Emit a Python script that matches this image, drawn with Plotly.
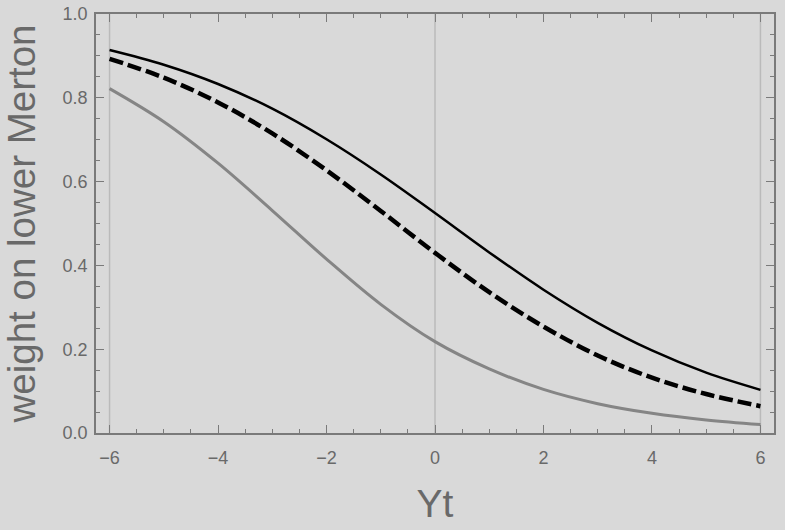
import plotly.graph_objects as go

# Yt values and curve readings (weight on lower Merton)
yt = [-6, -5, -4, -3, -2, -1, 0, 1, 2, 3, 4, 5, 6]
w_solid = [0.914, 0.879, 0.833, 0.774, 0.701, 0.617, 0.525, 0.431, 0.342, 0.263, 0.197, 0.144, 0.103]
w_dashed = [0.893, 0.848, 0.789, 0.715, 0.627, 0.530, 0.430, 0.336, 0.254, 0.185, 0.132, 0.093, 0.064]
w_gray = [0.822, 0.743, 0.644, 0.531, 0.415, 0.307, 0.218, 0.153, 0.104, 0.070, 0.047, 0.031, 0.020]

x_ticks = [-6, -4, -2, 0, 2, 4, 6]
y_ticks = [0.0, 0.2, 0.4, 0.6, 0.8, 1.0]

BG = "#d9d9d9"
FRAME = "#7a7a7a"
TXT = "#696969"
FONT = "Liberation Sans, Arial, sans-serif"

fig = go.Figure()
fig.add_trace(go.Scatter(x=yt, y=w_gray, mode="lines",
                         line=dict(color="#858585", width=3, shape="spline")))
fig.add_trace(go.Scatter(x=yt, y=w_dashed, mode="lines",
                         line=dict(color="black", width=4.5, dash="14px,5px", shape="spline")))
fig.add_trace(go.Scatter(x=yt, y=w_solid, mode="lines",
                         line=dict(color="black", width=2.5, shape="spline")))

# light grid lines at the ends and at zero
for gx in [-6, 0, 6]:
    fig.add_vline(x=gx, line=dict(color="#bababa", width=1.5), layer="below")

axis_common = dict(
    showline=True, linecolor=FRAME, linewidth=1.5, mirror="ticks",
    ticks="inside", ticklen=8, tickwidth=1.2, tickcolor=FRAME,
    showgrid=False, zeroline=False,
    tickfont=dict(family=FONT, size=18, color=TXT),
)

fig.update_xaxes(
    range=[-6.25, 6.25], tickvals=x_ticks, ticklabelstandoff=8,
    minor=dict(dtick=0.5, ticks="inside", ticklen=4, tickcolor=FRAME, showgrid=False),
    title=dict(text="Yt", font=dict(family=FONT, size=39, color=TXT), standoff=22),
    **axis_common,
)
fig.update_yaxes(
    range=[0, 1], tickvals=y_ticks, tickformat=".1f", ticklabelstandoff=3,
    minor=dict(dtick=0.05, ticks="inside", ticklen=4, tickcolor=FRAME, showgrid=False),
    title=dict(text="weight on lower Merton", font=dict(family=FONT, size=38.5, color=TXT), standoff=17),
    **axis_common,
)

fig.update_layout(
    width=785, height=530,
    margin=dict(l=96, r=11, t=14, b=97, autoexpand=False),
    paper_bgcolor=BG, plot_bgcolor=BG,
    showlegend=False,
)

fig.write_html(
    "out.html",
    config={"displayModeBar": False},
    post_script="document.body.style.margin='0';document.body.style.background='#d9d9d9';",
)
